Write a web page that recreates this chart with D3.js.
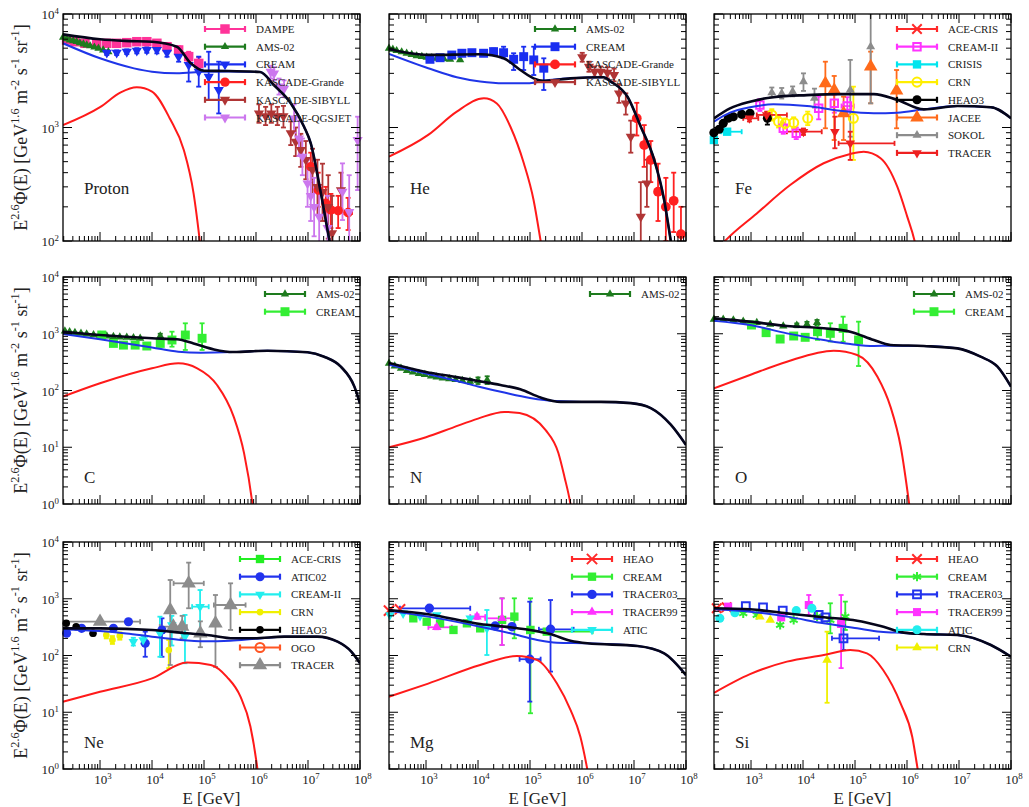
<!DOCTYPE html>
<html>
<head>
<meta charset="utf-8">
<script src="https://cdn.jsdelivr.net/npm/d3@7"></script>
<style>
body { margin: 0; background: #fff; }
text { font-family: "Liberation Serif", "Times New Roman", serif; fill: #222; }
</style>
</head>
<body>
<script>

// ---- data. points are [E, value, lo, hi, xlo, xhi] ----

// proton
var protonBlack = [[194,6620],[1000,5990],[3000,5800],[10000,5700],[30000,5150],[55000,3700],[100000,3160],[300000,3150],[1.2e6,3080],[2.2e6,2370],[4.7e6,1630],[8.4e6,1016],[1.13e7,726],[1.77e7,263],[2.6e7,100],[4e7,40]];
var protonBlue = [[194,5520],[1000,4070],[4500,3320],[10000,3100],[30000,3000],[100000,3100],[300000,3120],[1.2e6,3080],[2.2e6,2370],[4.7e6,1630],[8.4e6,1016],[1.13e7,726],[1.77e7,263],[2.6e7,100],[4e7,40]];
var protonRed = [[194,1050],[1000,1510],[2500,2040],[5100,2260],[10000,2070],[22000,1200],[41000,631],[63000,263],[83000,100],[110000,30]];
var protonDAMPE = [[228,5900,5700,6100],[329,5700,5500,5900],[513,5520,5330,5720],[863,5520,5330,5720],[1345,5520,5300,5750],[2090,5520,5300,5750],[3270,5590,5350,5850],[5100,5700,5430,5980],[7940,5700,5400,6000],[12400,5520,5200,5850],[19400,5150,4800,5500],[32500,4820,4450,5200],[50700,4210,3800,4650],[79100,3670,3250,4150]];
var protonAMS = [[195,6220],[230,6050],[263,5900],[305,5800],[355,5700],[410,5560],[479,5440],[555,5330],[646,5230],[780,5100],[933,4980],[1150,4800],[1445,4650]];
var protonCREAM = [[1350,4560,4350,4780],[2090,4560,4350,4780],[3270,4650,4430,4880],[5100,4750,4500,5000],[7940,4820,4550,5100],[12400,4820,4500,5150],[19400,4560,4200,4950],[32500,4210,3800,4650],[50700,3560,2540,4500],[79100,3100,2290,4210],[123000,2800,1750,4650],[192000,2140,1330,3800]];
var protonKG = [[1.13e7,452,330,600],[1.57e7,281,200,400],[2.2e7,215,150,300],[2.75e7,188,130,260,2.3e7,3.3e7],[3.8e7,185,130,250,3.2e7,4.5e7],[5.9e7,178,125,240,5e7,7e7]];
var protonSIB = [[1.14e6,1330,1100,1600],[1.53e6,1260,1050,1520],[1.97e6,1330,1100,1600],[2.58e6,1260,1050,1520],[3.37e6,1260,1000,1550],[4.66e6,890,700,1130],[5.81e6,750,560,1000],[7.26e6,634,450,880],[9.08e6,518,350,760],[1.22e7,423,260,650],[1.52e7,300,170,520],[1.9e7,270,150,480],[2.45e7,200,105,380],[2.9e7,117,80,250],[4.3e7,281,190,400]];
var protonQGS = [[1.91e6,3100,2700,3500],[2.22e6,3000,2600,3400],[2.77e6,2300,1950,2700],[3.46e6,2200,1850,2600],[5.4e6,1200,900,1600],[6.7e6,800,560,1150],[7.8e6,553,380,800],[9.8e6,322,200,520],[1.13e7,250,150,420],[1.31e7,200,110,360],[1.64e7,164,90,300],[2.38e7,130,80,250],[4.6e7,272,153,483],[6.2e7,180,90,380],[9e7,776,281,1245]];

// helium
var heBlack = [[194,4890],[1100,4360],[11000,4420],[31000,4070],[65000,3210],[117000,2710],[182000,2580],[600000,2710],[2.6e6,2770],[3.6e6,2535],[7.5e6,1866],[1.35e7,1016],[2.45e7,518],[3.8e7,230],[5.1e7,100],[7e7,40]];
var heBlue = [[194,4450],[1100,3330],[3900,2770],[11000,2540],[31000,2450],[90000,2450],[182000,2580],[600000,2710],[2.6e6,2770],[3.6e6,2535],[7.5e6,1866],[1.35e7,1016],[2.45e7,518],[3.8e7,230],[5.1e7,100],[7e7,40]];
var heRed = [[194,553],[1100,860],[3900,1380],[13000,1810],[23000,1630],[42000,1016],[76000,484],[117000,230],[160000,100],[220000,40]];
var heAMS = [[194,4990],[230,4880],[272,4750],[340,4630],[424,4510],[530,4390],[661,4270],[830,4210],[1030,4160],[1290,4110],[1610,4070],[2200,4030],[2900,3990],[4530,3940]];
var heCREAM = [[1190,3990,3800,4200],[1860,4120,3920,4330],[3130,4350,4130,4580],[4890,4510,4280,4750],[7620,4560,4320,4810],[12800,4510,4250,4790],[19900,4660,4380,4960],[31000,4560,4070,5150],[48400,3990,3210,4510],[75500,4210,3210,5150],[118000,3940,2900,5150],[184000,3330,2140,4070]];
var heKG = [[1.13e7,1205,850,1650],[1.57e7,701,450,1050],[2.1e7,518,330,760],[2.9e7,272,150,480],[4.1e7,200,100,360],[5.8e7,226,120,400],[8e7,115,80,200]];
var heSIB = [[1.01e6,4160,3800,4550],[1.36e6,3430,3100,3800],[1.75e6,3110,2800,3450],[2.29e6,3110,2800,3450],[3.08e6,3040,2700,3400],[4.13e6,2900,2550,3300],[5.15e6,2000,1650,2400],[6.95e6,1630,1300,2000],[8.67e6,830,600,1150],[1.35e7,164,90,330],[1.77e7,322,200,520]];

// iron
var feBlack = [[194,1205],[394,1476],[955,1690],[2690,1850],[11900,1930],[52000,1970],[230000,1970],[650000,1750],[2.1e6,1445],[9.3e6,1545],[4.1e7,1510],[1e8,1205]];
var feBlue = [[194,1125],[394,1350],[955,1510],[2690,1600],[11900,1545],[52000,1405],[230000,1335],[650000,1350],[2.1e6,1445],[9.3e6,1545],[4.1e7,1510],[1e8,1205]];
var feRed = [[194,78],[315,100],[1290,175],[5660,311],[24900,484],[81000,585],[147000,612],[310000,536],[650000,301],[1.01e6,164],[1.4e6,100],[2e6,40]];
var feACE = [];
var feCREAMII = [[1480,1578,1400,1780],[4170,985,880,1100],[7410,889,790,1000],[20000,1476,1180,1870],[40000,1633,1350,1950],[71000,1545,1300,1850,55000,95000]];
var feCRISIS = [[193,776],[347,918,null,null,269,661]];
var feCRN = [[2510,1290,1150,1450],[3390,1125,1000,1260],[4570,1088,980,1200],[6610,1101,980,1230],[12300,1205,1050,1380],[93000,1205,518,2290]];
var feHEAO3 = [[193,900],[244,964],[292,1088],[365,1205],[456,1245],[661,1306],[955,1334],[2065,1205,1060,1370]];
var feJACEE = [[26900,2450,984,3800],[39800,2140,776,2845],[60300,1335,776,1870],[200000,3435,1633,4660],[630000,2110,984,3210]];
var feSOKOL = [[2510,2030,1850,2250],[3890,2000,1800,2230],[6310,2070,1880,2300],[10200,2540,2100,3000],[16600,1810,1500,2200],[81000,2140,830,3940],[200000,5150,1633,10140]];
var feTRACER = [[933,1205,1130,1280,708,1380],[2000,1290,1200,1380,1290,4900],[10200,918,860,980,4900,22900],[41000,918,656,1245],[81000,725,518,918,48400,575000]];

// carbon
var cBlack = [[194,1087],[1000,950],[10000,832],[30000,798],[63000,676],[155000,530],[370000,476],[1.66e6,503],[9.8e6,471],[2.04e7,394],[4.27e7,263],[7.8e7,117],[1e8,59]];
var cBlue = [[194,991],[1000,798],[10000,575],[32000,483],[85000,464],[370000,476],[1.66e6,503],[9.8e6,471],[2.04e7,394],[4.27e7,263],[7.8e7,117],[1e8,59]];
var cRed = [[194,78],[1000,134],[10000,246],[32000,301],[74000,246],[178000,125],[370000,35],[590000,7.8],[850000,1.05],[1e6,0.3]];
var cAMS = [[211,1117],[260,1080],[329,1045],[430,1015],[553,990],[750,960],[1000,938],[1350,910],[1810,888],[2400,875],[3270,865],[4400,848],[5920,830],[14400,912,840,1000]];
var cCREAM = [[1080,950,870,1040],[1810,676,610,750],[2820,631,570,700],[4740,631,570,700],[7940,608,545,680],[14400,676,600,760],[24200,776,592,1087],[43700,950,518,1528],[91800,832,518,1528]];

// nitrogen
var nBlack = [[194,305],[1000,212],[3600,174],[10000,147],[27000,125],[65000,105],[160000,75],[390000,63],[2.3e6,63],[8.7e6,60],[2.1e7,49],[5.1e7,25],[1e8,11]];
var nBlue = [[194,285],[1000,200],[3600,150],[10000,118],[32000,92],[100000,74],[320000,65],[1e6,63],[2.3e6,63],[8.7e6,60],[2.1e7,49],[5.1e7,25],[1e8,11]];
var nRed = [[194,10],[1000,15],[3200,22],[10000,32],[32000,42],[63000,40],[200000,20],[350000,8],[460000,3],[600000,1],[700000,0.4]];
var nAMS = [[194,300],[250,270],[330,245],[430,225],[560,210],[730,198],[950,190],[1250,180],[1600,172],[2100,165],[2800,160],[3700,155],[5000,150],[7000,145,130,160],[10000,150,130,170],[15000,153,130,178]];

// oxygen
var oBlack = [[194,1870],[955,1633],[4900,1371],[25100,1247],[81000,1087],[230000,776],[480000,634],[2.1e6,608],[9.3e6,553],[2.6e7,394],[5.5e7,263],[1e8,117]];
var oBlue = [[194,1700],[955,1425],[4900,1016],[25100,776],[81000,660],[230000,608],[480000,615],[2.1e6,608],[9.3e6,553],[2.6e7,394],[5.5e7,263],[1e8,117]];
var oRed = [[194,109],[955,188],[4900,322],[39000,503],[110000,423],[270000,175],[480000,52],[760000,10],[1.1e6,1],[1.3e6,0.3]];
var oAMS = [[193,1800],[292,1795],[457,1746],[708,1655],[1290,1567],[2340,1466],[4170,1371],[7590,1406,1300,1520],[11900,1466,1330,1620],[18600,1567,1400,1750]];
var oCREAM = [[1020,1425,1300,1560],[1950,1045,950,1150],[3630,807,730,890],[6610,912,830,1000],[11000,865,780,960],[19000,1087,780,1530],[33500,1016,730,1530],[59000,1247,725,2000],[117000,776,270,1633]];

// neon
var neBlack = [[194,301],[1000,301],[10000,282],[47000,246],[115000,230],[370000,201],[910000,201],[3.5e6,215],[1.5e7,215],[3.7e7,175],[6.8e7,117],[1e8,73]];
var neBlue = [[194,288],[1000,270],[3200,245],[10000,215],[32000,190],[100000,178],[320000,182],[1e6,198],[3.5e6,215],[1.5e7,215],[3.7e7,175],[6.8e7,117],[1e8,73]];
var neRed = [[194,15.3],[1000,23],[10000,39.5],[47000,75],[135000,68],[275000,42],[500000,19],[780000,5.6],[1.05e6,1.1],[1.2e6,0.4]];
var neACE = [];
var neATIC02 = [[228,246,225,270],[443,301,275,330],[1810,301,275,330],[3520,394,355,435],[7400,164,95,263],[15500,282,95,452]];
var neCREAMII = [[4370,175,150,205],[6760,188,160,220],[14200,246,95,483],[24000,345,150,500],[43000,215,73,518],[84000,725,230,1425,59000,123000]];
var neCRN = [[1320,230,200,265],[1730,188,160,220],[2400,221,190,255],[21000,125,60,188]];
var neHEAO3 = [[224,370,340,400],[347,322,300,345],[733,246,225,270]];
var neOGO = [];
var neTRACER = [[1000,394,null,null,194,5900],[22400,634,68,2140],[25700,322,null,null,14100,46800],[38000,322,200,500],[50700,1870,680,4330,26000,99000],[85000,246,140,400],[166000,369,63,1164],[324000,776,282,1870,155000,630000]];

// magnesium
var mgBlack = [[194,634],[1100,532],[11000,359],[42000,314],[100000,282],[245000,239],[600000,182],[1.26e6,164],[1.17e7,147],[3.8e7,109],[1e8,45]];
var mgBlue = [[194,617],[1100,484],[11000,322],[42000,246],[138000,188],[330000,168],[1.26e6,164],[1.17e7,147],[3.8e7,109],[1e8,45]];
var mgRed = [[194,18.8],[1100,32],[11000,68],[56000,98],[138000,83],[330000,32],[600000,11],[930000,3.7],[1.26e6,1],[1.5e6,0.4]];
var mgHEAO = [[194,617],[316,652]];
var mgCREAM = [[569,452,420,485],[1030,394,365,425],[1860,369,340,400],[3370,282,255,310],[6110,369,335,405],[11000,301,270,335],[29000,423,153,1018],[50000,484,201,1018],[102000,282,9.6,1018],[210000,263,null,null,87000,1.6e6]];
var mgTRACER03 = [[1160,679,null,null,315,7080],[21400,331],[45000,322],[99000,86,15.4,887,63000,160000],[248000,289,52,950,148000,690000]];
var mgTRACER99 = [[1610,314,290,340,1110,3130],[9550,484,440,530,7080,13800],[29000,452,153,1018,13800,48000]];
var mgATIC = [[202,518],[363,553],[766,497],[1610,518],[7080,452],[14800,301,102,634]];

// silicon
var siBlack = [[194,679],[955,652],[4900,553],[25100,471],[110000,411],[310000,331],[870000,253],[2.1e6,239],[9.3e6,230],[4.1e7,153],[1e8,95]];
var siBlue = [[194,652],[955,592],[4900,484],[25100,369],[110000,301],[310000,263],[870000,250],[2.1e6,239],[9.3e6,230],[4.1e7,153],[1e8,95]];
var siRed = [[194,22],[955,47],[4900,78],[25100,102],[81000,125],[170000,109],[350000,55],[760000,14],[1.26e6,3.7],[1.6e6,1],[1.8e6,0.5]];
var siHEAO = [[219,679],[339,708]];
var siCREAM = [[708,553],[1290,518],[3630,345],[6610,423],[18600,484],[33500,423,246,832],[65000,484,282,890]];
var siTRACER03 = [[794,745],[1700,708],[4070,617],[20000,518],[27000,471],[60000,201,125,345,36000,290000]];
var siTRACER99 = [[363,726],[3800,470],[12900,776,518,1164],[54000,359,60,1164]];
var siATIC = [[251,452],[490,568],[7410,617],[14800,679]];
var siCRN = [[1480,484],[2340,423],[29000,83,14.7,263]];

// ---- layout ----
var width = 1029, height = 807,
    pw = 297, ph = 227,
    colX = [63, 389, 714],
    rowY = [14, 277, 542];

var panels = [
  { label: "Proton", col: 0, row: 0, ymin: 100, black: protonBlack, blue: protonBlue, red: protonRed, leg: 142,
    series: [
      { name: "DAMPE", data: protonDAMPE, color: "#ff3399", m: "square", s: 90 },
      { name: "AMS-02", data: protonAMS, color: "#1e7b1e", m: "triangle", s: 30 },
      { name: "CREAM", data: protonCREAM, color: "#1a2ef0", m: "triangleDown", s: 45 },
      { name: "KASCADE-Grande", data: protonKG, color: "#ff2020", m: "circle", s: 70 },
      { name: "KASCADE-SIBYLL", data: protonSIB, color: "#b03535", m: "triangleDown", s: 45 },
      { name: "KASCADE-QGSJET", data: protonQGS, color: "#cc77ee", m: "triangleDown", s: 45 }
    ] },
  { label: "He", col: 1, row: 0, ymin: 100, black: heBlack, blue: heBlue, red: heRed, leg: 146,
    series: [
      { name: "AMS-02", data: heAMS, color: "#1e7b1e", m: "triangle", s: 30 },
      { name: "CREAM", data: heCREAM, color: "#1a2ef0", m: "square", s: 80 },
      { name: "KASCADE-Grande", data: heKG, color: "#ff2020", m: "circle", s: 75 },
      { name: "KASCADE-SIBYLL", data: heSIB, color: "#b03535", m: "triangleDown", s: 45 }
    ] },
  { label: "Fe", col: 2, row: 0, ymin: 100, black: feBlack, blue: feBlue, red: feRed, leg: 183,
    series: [
      { name: "ACE-CRIS", data: feACE, color: "#ff2a2a", m: "times", s: 60 },
      { name: "CREAM-II", data: feCREAMII, color: "#ff33ff", m: "squareOpen", s: 55 },
      { name: "CRISIS", data: feCRISIS, color: "#00e5ee", m: "square", s: 70 },
      { name: "CRN", data: feCRN, color: "#ffee00", m: "circleOpen", s: 65 },
      { name: "HEAO3", data: feHEAO3, color: "#000000", m: "circle", s: 65 },
      { name: "JACEE", data: feJACEE, color: "#ff6a1a", m: "triangle", s: 80 },
      { name: "SOKOL", data: feSOKOL, color: "#8c8c8c", m: "triangle", s: 35 },
      { name: "TRACER", data: feTRACER, color: "#ee2020", m: "triangleDown", s: 40 }
    ] },
  { label: "C", col: 0, row: 1, ymin: 1, black: cBlack, blue: cBlue, red: cRed, leg: 202,
    series: [
      { name: "AMS-02", data: cAMS, color: "#1e7b1e", m: "triangle", s: 30 },
      { name: "CREAM", data: cCREAM, color: "#33ee33", m: "square", s: 80 }
    ] },
  { label: "N", col: 1, row: 1, ymin: 1, black: nBlack, blue: nBlue, red: nRed, leg: 201,
    series: [
      { name: "AMS-02", data: nAMS, color: "#1e7b1e", m: "triangle", s: 30 }
    ] },
  { label: "O", col: 2, row: 1, ymin: 1, black: oBlack, blue: oBlue, red: oRed, leg: 200,
    series: [
      { name: "AMS-02", data: oAMS, color: "#1e7b1e", m: "triangle", s: 30 },
      { name: "CREAM", data: oCREAM, color: "#33ee33", m: "square", s: 80 }
    ] },
  { label: "Ne", col: 0, row: 2, ymin: 1, black: neBlack, blue: neBlue, red: neRed, leg: 177,
    series: [
      { name: "ACE-CRIS", data: neACE, color: "#22ee22", m: "square", s: 70 },
      { name: "ATIC02", data: neATIC02, color: "#2233ee", m: "circle", s: 65 },
      { name: "CREAM-II", data: neCREAMII, color: "#22eeee", m: "triangleDown", s: 40 },
      { name: "CRN", data: neCRN, color: "#f0f000", m: "circle", s: 35 },
      { name: "HEAO3", data: neHEAO3, color: "#000000", m: "circle", s: 45 },
      { name: "OGO", data: neOGO, color: "#ff5522", m: "circleOpen", s: 65 },
      { name: "TRACER", data: neTRACER, color: "#8c8c8c", m: "triangle", s: 90 }
    ] },
  { label: "Mg", col: 1, row: 2, ymin: 1, black: mgBlack, blue: mgBlue, red: mgRed, leg: 183,
    series: [
      { name: "HEAO", data: mgHEAO, color: "#ff2a2a", m: "times", s: 70 },
      { name: "CREAM", data: mgCREAM, color: "#33ee33", m: "square", s: 70 },
      { name: "TRACER03", data: mgTRACER03, color: "#2233ee", m: "circle", s: 70 },
      { name: "TRACER99", data: mgTRACER99, color: "#ff33ff", m: "triangle", s: 40 },
      { name: "ATIC", data: mgATIC, color: "#22eeee", m: "triangleDown", s: 40 }
    ] },
  { label: "Si", col: 2, row: 2, ymin: 1, black: siBlack, blue: siBlue, red: siRed, leg: 183,
    series: [
      { name: "HEAO", data: siHEAO, color: "#ff2a2a", m: "times", s: 60 },
      { name: "CREAM", data: siCREAM, color: "#33ee33", m: "asterisk", s: 60 },
      { name: "TRACER03", data: siTRACER03, color: "#2233ee", m: "squareOpen", s: 60 },
      { name: "TRACER99", data: siTRACER99, color: "#ff33ff", m: "square", s: 65 },
      { name: "ATIC", data: siATIC, color: "#22eeee", m: "circle", s: 65 },
      { name: "CRN", data: siCRN, color: "#f0f000", m: "triangle", s: 40 }
    ] }
];

var svg = d3.select("body").append("svg")
    .attr("width", width)
    .attr("height", height);

var x = d3.scaleLog().domain([194, 1e8]).range([0, pw]);

function isMajor(v) {
    var l = Math.log10(v);
    return Math.abs(l - Math.round(l)) < 1e-6;
}

// text with superscripts; parts = [[str, isSup], ...]
function rich(el, parts, size) {
    var up = false, shift = size * 0.42;
    parts.forEach(function(p) {
        var t = el.append("tspan").text(p[0]);
        if (p[1]) {
            t.style("font-size", (size * 0.68) + "px");
            if (!up) { t.attr("dy", -shift); up = true; }
        } else if (up) {
            t.attr("dy", shift); up = false;
        }
    });
}

var symbols = {
    square: d3.symbolSquare, squareOpen: d3.symbolSquare,
    triangle: d3.symbolTriangle, triangleDown: d3.symbolTriangle,
    circle: d3.symbolCircle, circleOpen: d3.symbolCircle,
    times: d3.symbolTimes, asterisk: d3.symbolAsterisk
};

function marker(g, type, color, size, cx, cy) {
    var p = g.append("path")
        .attr("d", d3.symbol().type(symbols[type]).size(size)())
        .attr("transform", "translate(" + cx + "," + cy + ")" + (type == "triangleDown" ? " rotate(180)" : ""));
    if (type == "squareOpen" || type == "circleOpen" || type == "times" || type == "asterisk") {
        p.attr("fill", "none").attr("stroke", color).attr("stroke-width", 2);
    } else {
        p.attr("fill", color);
    }
}

panels.forEach(function(P, pi) {
    var x0 = colX[P.col], y0 = rowY[P.row];
    var y = d3.scaleLog().domain([P.ymin, 1e4]).range([ph, 0]);

    var g = svg.append("g").attr("transform", "translate(" + x0 + "," + y0 + ")");

    g.append("clipPath").attr("id", "clip" + pi)
      .append("rect").attr("width", pw).attr("height", ph);

    // error bars (clipped) and markers
    var bars = g.append("g").attr("clip-path", "url(#clip" + pi + ")");
    var marks = g.append("g");
    P.series.forEach(function(S) {
        S.data.forEach(function(d) {
            var cx = x(d[0]), cy = y(d[1]);
            if (d[2] != null) {
                var ylo = y(d[2]), yhi = y(d[3]);
                bars.append("line").attr("x1", cx).attr("x2", cx).attr("y1", ylo).attr("y2", yhi);
                bars.append("line").attr("x1", cx - 2.5).attr("x2", cx + 2.5).attr("y1", ylo).attr("y2", ylo);
                bars.append("line").attr("x1", cx - 2.5).attr("x2", cx + 2.5).attr("y1", yhi).attr("y2", yhi);
            }
            if (d[4] != null) {
                var xlo = x(d[4]), xhi = x(d[5]);
                bars.append("line").attr("x1", xlo).attr("x2", xhi).attr("y1", cy).attr("y2", cy);
                bars.append("line").attr("x1", xlo).attr("x2", xlo).attr("y1", cy - 2.5).attr("y2", cy + 2.5);
                bars.append("line").attr("x1", xhi).attr("x2", xhi).attr("y1", cy - 2.5).attr("y2", cy + 2.5);
            }
            bars.selectAll("line").filter(function() { return !this.getAttribute("stroke"); })
                .attr("stroke", S.color).attr("stroke-width", 1.8);
            if (cy >= 0 && cy <= ph) marker(marks, S.m, S.color, S.s, cx, cy);
        });
    });

    // model curves
    var line = d3.line()
        .x(function(d) { return x(d[0]); })
        .y(function(d) { return y(d[1]); })
        .curve(d3.curveMonotoneX);
    var curves = g.append("g").attr("clip-path", "url(#clip" + pi + ")").attr("fill", "none");
    curves.append("path").datum(P.red).attr("d", line).attr("stroke", "#ff1a1a").attr("stroke-width", 2);
    curves.append("path").datum(P.blue).attr("d", line).attr("stroke", "#1f35e8").attr("stroke-width", 2);
    curves.append("path").datum(P.black).attr("d", line).attr("stroke", "#05051a").attr("stroke-width", 2.6);

    // frame and inward ticks on all four sides
    g.append("rect").attr("width", pw).attr("height", ph)
        .attr("fill", "none").attr("stroke", "#000").attr("stroke-width", 1.3);
    var tk = g.append("g").attr("stroke", "#000").attr("stroke-width", 1);
    x.ticks().forEach(function(t) {
        var px = x(t), len = isMajor(t) ? 9 : 5;
        tk.append("line").attr("x1", px).attr("x2", px).attr("y1", ph).attr("y2", ph - len);
        tk.append("line").attr("x1", px).attr("x2", px).attr("y1", 0).attr("y2", len);
    });
    y.ticks().forEach(function(t) {
        var py = y(t), len = isMajor(t) ? 9 : 5;
        tk.append("line").attr("x1", 0).attr("x2", len).attr("y1", py).attr("y2", py);
        tk.append("line").attr("x1", pw).attr("x2", pw - len).attr("y1", py).attr("y2", py);
    });

    // tick labels only on the outer panels
    if (P.col == 0) {
        y.ticks().filter(isMajor).forEach(function(t) {
            var lab = g.append("text").attr("x", -4).attr("y", y(t) + 5)
                .attr("text-anchor", "end").style("font-size", "13px");
            rich(lab, [["10", false], [String(Math.round(Math.log10(t))), true]], 13);
        });
        var yt = svg.append("text")
            .attr("transform", "translate(27," + (y0 + ph / 2) + ") rotate(-90)")
            .attr("text-anchor", "middle").style("font-size", "18px");
        rich(yt, [["E", false], ["2.6", true], ["\u03A6(E) [GeV", false], ["1.6", true], [" m", false], ["-2", true],
                  [" s", false], ["-1", true], [" sr", false], ["-1", true], ["]", false]], 18);
    }
    if (P.row == 2) {
        x.ticks().filter(isMajor).forEach(function(t) {
            var lab = g.append("text").attr("x", x(t) + 3).attr("y", ph + 15)
                .attr("text-anchor", "middle").style("font-size", "13px");
            rich(lab, [["10", false], [String(Math.round(Math.log10(t))), true]], 13);
        });
        svg.append("text").attr("x", x0 + pw / 2).attr("y", 804)
            .attr("text-anchor", "middle").style("font-size", "17px").text("E [GeV]");
    }

    // element label
    g.append("text").attr("x", 21).attr("y", P.row == 0 ? 180 : 206)
        .style("font-size", "17px").text(P.label);

    // legend
    var top = P.row == 0 ? 15 : 17;
    P.series.forEach(function(S, i) {
        var ly = top + i * 17.7, a = P.leg, b = P.leg + 40;
        var lg = g.append("g").attr("stroke", S.color).attr("stroke-width", 2.2);
        lg.append("line").attr("x1", a).attr("x2", b).attr("y1", ly).attr("y2", ly);
        lg.append("line").attr("x1", a).attr("x2", a).attr("y1", ly - 3).attr("y2", ly + 3);
        lg.append("line").attr("x1", b).attr("x2", b).attr("y1", ly - 3).attr("y2", ly + 3);
        marker(g, S.m, S.color, S.s, (a + b) / 2, ly);
        g.append("text").attr("x", b + 11).attr("y", ly + 4)
            .style("font-size", "11px").text(S.name);
    });
});

</script>
</body>
</html>
